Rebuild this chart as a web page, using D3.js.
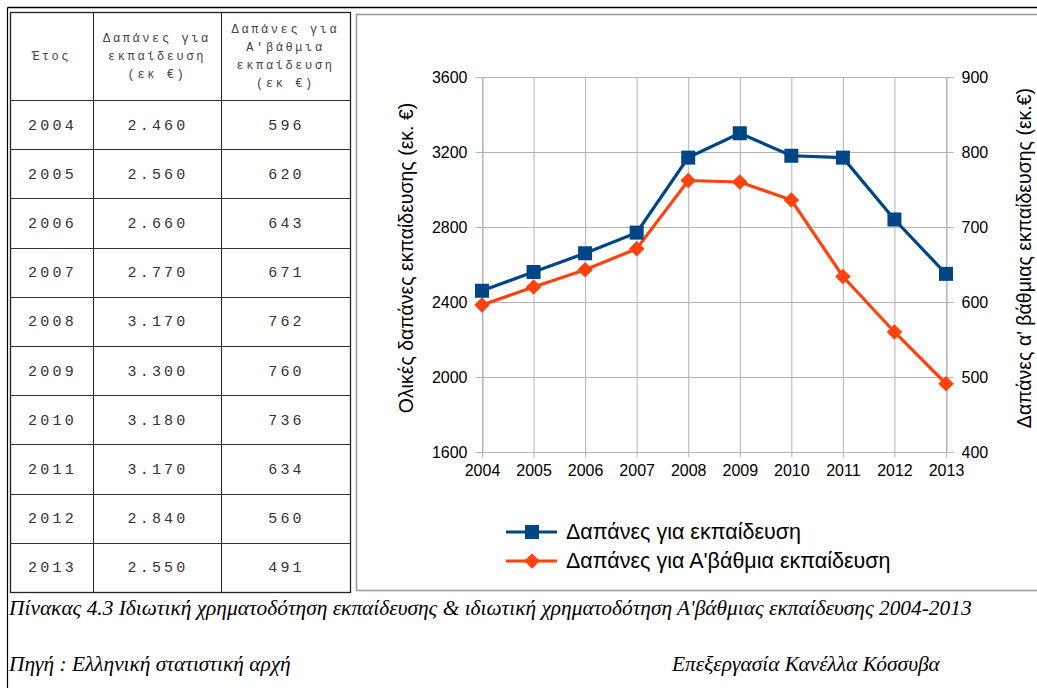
<!DOCTYPE html>
<html><head><meta charset="utf-8">
<script src="https://cdn.jsdelivr.net/npm/d3@7"></script>
<style>body{margin:0;background:#fff}svg{display:block}</style>
</head><body>
<svg id="c" width="1037" height="688"></svg>
<script>
const years = [2004,2005,2006,2007,2008,2009,2010,2011,2012,2013];
const totalSpend = [2460,2560,2660,2770,3170,3300,3180,3170,2840,2550];
const primarySpend = [596,620,643,671,762,760,736,634,560,491];
const totalLabels = ["2.460","2.560","2.660","2.770","3.170","3.300","3.180","3.170","2.840","2.550"];
const leftTicks = [1600,2000,2400,2800,3200,3600];
const rightTicks = [400,500,600,700,800,900];
const seriesNames = ["Δαπάνες για εκπαίδευση","Δαπάνες για Α'βάθμια εκπαίδευση"];
const headerCols = [["Έτος"],["Δαπάνες για","εκπαίδευση","(εκ €)"],["Δαπάνες για","Α'βάθμια","εκπαίδευση","(εκ €)"]];
const caption = "Πίνακας 4.3 Ιδιωτική χρηματοδότηση εκπαίδευσης & ιδιωτική χρηματοδότηση Α'βάθμιας εκπαίδευσης 2004-2013";
const source = "Πηγή : Ελληνική στατιστική αρχή";
const author = "Επεξεργασία Κανέλλα Κόσσυβα";
const colors = ["#004586","#ff420e"];

const svg = d3.select("#c");

// page frame
svg.append("line").attr("x1",7.5).attr("x2",1037).attr("y1",7.5).attr("y2",7.5).attr("stroke","#000").attr("stroke-width",1.5);
svg.append("line").attr("x1",7.5).attr("x2",7.5).attr("y1",7.5).attr("y2",688).attr("stroke","#000").attr("stroke-width",1.2);

// table
const colX = [10,93,221,350];
const headerTop = 12, headerBottom = 100, tableBottom = 592;
const rowY = d3.scaleBand().domain(years).range([headerBottom, tableBottom]);
const tbl = svg.append("g");
tbl.append("rect").attr("x",colX[0]+0.5).attr("y",headerTop+0.5).attr("width",colX[3]-colX[0]).attr("height",tableBottom-headerTop)
  .attr("fill","none").attr("stroke","#222").attr("stroke-width",1.3);
colX.slice(1,3).forEach(x=>tbl.append("line").attr("x1",x+0.5).attr("x2",x+0.5).attr("y1",headerTop).attr("y2",tableBottom).attr("stroke","#222"));
[headerBottom, ...years.slice(1).map(y=>rowY(y))].forEach(y=>tbl.append("line").attr("x1",colX[0]).attr("x2",colX[3]).attr("y1",Math.round(y)+0.5).attr("y2",Math.round(y)+0.5).attr("stroke","#333").attr("stroke-width",1.2));
const colCenters = [0,1,2].map(i=>(colX[i]+colX[i+1])/2);
headerCols.forEach((lines,i)=>{
  const lh = 18, mid = (headerTop+headerBottom)/2;
  lines.forEach((t,j)=>{
    tbl.append("text").attr("x",colCenters[i]).attr("y",mid+(j-(lines.length-1)/2)*lh+4)
      .attr("text-anchor","middle").attr("font-family","Liberation Mono, monospace").attr("font-size",12)
      .attr("letter-spacing",2.6).attr("fill","#444").text(t);
  });
});
years.forEach((yr,i)=>{
  const cy = rowY(yr)+rowY.bandwidth()/2+5;
  [String(yr), totalLabels[i], String(primarySpend[i])].forEach((t,k)=>{
    tbl.append("text").attr("x",colCenters[k]+1).attr("y",cy).attr("text-anchor","middle")
      .attr("font-family","Liberation Mono, monospace").attr("font-size",15).attr("letter-spacing",3.2)
      .attr("fill","#333").text(t);
  });
});

// chart frame
svg.append("path").attr("d","M1037,14.5 H356.5 V590.5 H1037").attr("fill","none").attr("stroke","#999").attr("stroke-width",1.5);

// chart
const x = d3.scalePoint().domain(years).range([482,946]);
const yL = d3.scaleLinear().domain([1600,3600]).range([452,77]);
const yR = d3.scaleLinear().domain([400,900]).range([452,77]);
const g = svg.append("g").attr("font-family","Liberation Sans, Arial, sans-serif");

// grid
g.append("g").selectAll("line").data(leftTicks).join("line")
  .attr("x1",482).attr("x2",946).attr("y1",d=>yL(d)+0.5).attr("y2",d=>yL(d)+0.5).attr("stroke","#b3b3b3");
g.append("g").selectAll("line").data(years).join("line")
  .attr("x1",d=>x(d)+0.5).attr("x2",d=>x(d)+0.5).attr("y1",77).attr("y2",452).attr("stroke","#b3b3b3");

// axes
const axL = d3.axisLeft(yL).tickValues(leftTicks).tickSize(7).tickPadding(8).tickFormat(d3.format("d"));
const axR = d3.axisRight(yR).tickValues(rightTicks).tickSize(7).tickPadding(8).tickFormat(d3.format("d"));
const axB = d3.axisBottom(x).tickSize(5).tickPadding(7).tickFormat(d3.format("d"));
function styleAxis(s){
  s.select(".domain").attr("stroke","#b3b3b3");
  s.selectAll(".tick line").attr("stroke","#b3b3b3");
  s.selectAll("text").attr("font-size",16).attr("fill","#000").attr("font-family","Liberation Sans, Arial, sans-serif");
}
g.append("g").attr("transform","translate(482.5,0)").call(axL).call(styleAxis);
g.append("g").attr("transform","translate(946.5,0)").call(axR).call(styleAxis);
g.append("g").attr("transform","translate(0,452.5)").call(axB).call(styleAxis).call(s=>s.select(".domain").remove());

// axis titles
g.append("text").attr("transform","translate(413,258) rotate(-90)").attr("text-anchor","middle")
  .attr("font-size",19.5).attr("fill","#000").text("Ολικές δαπάνες εκπαίδευσης (εκ. €)");
g.append("text").attr("transform","translate(1031,258) rotate(-90)").attr("text-anchor","middle")
  .attr("font-size",19.5).attr("fill","#000").text("Δαπάνες α' βάθμιας εκπαίδευσης (εκ.€)");

// lines
const lineL = d3.line().x((d,i)=>x(years[i])).y(d=>yL(d));
const lineR = d3.line().x((d,i)=>x(years[i])).y(d=>yR(d));
g.append("path").datum(primarySpend).attr("d",lineR).attr("fill","none").attr("stroke",colors[1]).attr("stroke-width",3.2);
g.append("g").selectAll("rect").data(primarySpend).join("rect")
  .attr("x",-5.5).attr("y",-5.5).attr("width",11).attr("height",11)
  .attr("transform",(d,i)=>`translate(${x(years[i])},${yR(d)}) rotate(45)`).attr("fill",colors[1]);
g.append("path").datum(totalSpend).attr("d",lineL).attr("fill","none").attr("stroke",colors[0]).attr("stroke-width",3.2);
g.append("g").selectAll("rect").data(totalSpend).join("rect")
  .attr("x",(d,i)=>x(years[i])-7).attr("y",d=>yL(d)-7).attr("width",14).attr("height",14).attr("fill",colors[0]);

// legend
const leg = g.append("g");
seriesNames.forEach((n,i)=>{
  const ly = 532 + i*29;
  leg.append("line").attr("x1",506).attr("x2",557).attr("y1",ly).attr("y2",ly).attr("stroke",colors[i]).attr("stroke-width",3.2);
  if(i===0) leg.append("rect").attr("x",525).attr("y",ly-7).attr("width",14).attr("height",14).attr("fill",colors[0]);
  else leg.append("rect").attr("x",-5.5).attr("y",-5.5).attr("width",11).attr("height",11).attr("transform",`translate(532,${ly}) rotate(45)`).attr("fill",colors[1]);
  leg.append("text").attr("x",566).attr("y",ly+7).attr("font-size",21.5).attr("fill","#000").text(n);
});

// captions
const cap = svg.append("g").attr("font-family","Liberation Serif, Times New Roman, serif").attr("font-style","italic").attr("font-size",21.4).attr("fill","#000");
cap.append("text").attr("x",9).attr("y",615).text(caption);
cap.append("text").attr("x",9).attr("y",671).text(source);
cap.append("text").attr("x",672).attr("y",671).text(author);
</script>
</body></html>
